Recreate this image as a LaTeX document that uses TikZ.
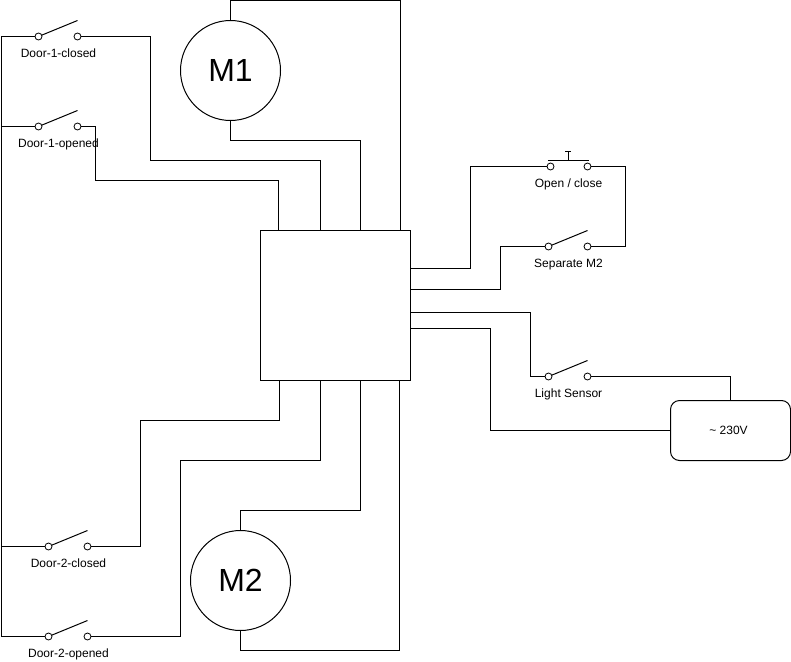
\documentclass[tikz,border=0pt]{standalone}
\usepackage{fontspec}
\setmainfont{Liberation Sans}
\usepackage{xcolor}
\usetikzlibrary{positioning,calc}
\tikzset{
  wire/.style={black,line width=1pt,line join=miter},
  term/.style={circle,draw,fill=white,line width=0.8pt,minimum size=7pt,inner sep=0pt,outer sep=0pt},
  lbl/.style={font=\fontsize{12}{14}\selectfont,text=black,inner sep=0pt,anchor=base},
  motor/.style={circle,draw,line width=1pt,minimum size=100pt,inner sep=0pt,outer sep=0pt,font=\fontsize{32}{36}\selectfont},
}

\begin{document}
\begin{tikzpicture}[x=1pt,y=-1pt]
  \useasboundingbox (0,0) rectangle (791,661);

  % Controller box and power supply
  \node[draw,line width=1pt,minimum size=150pt,inner sep=0pt,outer sep=0pt] (ctrl) at (335.5,305.5) {};
  \node[draw,line width=1pt,rounded corners=9pt,minimum width=120pt,minimum height=60pt,inner sep=0pt,outer sep=0pt,font=\fontsize{12}{14}\selectfont] (psu) at (730.5,430.5) {\char`\~{} 230V\hspace*{4pt}};

  % Motors
  \node[motor] (m1) at (230.5,70.5) {M1};
  \node[motor] (m2) at (240.5,580.5) {M2};

  % Switches: name / left terminal / y / label
  \foreach \name/\x/\y/\txt in {d1c/38.5/36.5/Door-1-closed,d1o/38.5/126.5/Door-1-opened,d2c/48.5/546.5/Door-2-closed,d2o/48.5/636.5/Door-2-opened,sep/548.5/246.5/Separate M2,lgt/548.5/376.5/Light Sensor} {
    \node[term] (\name a) at (\x,\y) {};
    \node[term] (\name b) at (\x+39,\y) {};
    \coordinate (\name tip) at (\x+39,\y-16);
    \draw[wire] (\name a) -- (\name tip);
    \node[lbl] (\name txt) at (\x+20,\y+21) {\txt};
  }

  % Push button
  \node[term] (btna) at (550.5,166.5) {};
  \node[term] (btnb) at (587.5,166.5) {};
  \node[lbl] (btntxt) at (568.5,187.5) {Open / close};
  \coordinate (barl) at (548,160.5);
  \coordinate (barr) at (589,160.5);
  \coordinate (stem) at (568,151);
  \draw[wire] (barl) -- (barr);
  \draw[wire] (stem |- barl) -- (stem);
  \draw[wire] (565,151) -- (571,151);

  % Points on the box edge
  \coordinate (n1) at (278.5,230);
  \coordinate (n2) at (320.5,230);
  \coordinate (n3) at (360.5,230);
  \coordinate (n4) at (400,230);
  \coordinate (s1) at (279.5,380);
  \coordinate (s2) at (320.5,380);
  \coordinate (s3) at (360.5,380);
  \coordinate (s4) at (399,380);
  \coordinate (e1) at (410.5,268);
  \coordinate (e2) at (410.5,289.5);
  \coordinate (e3) at (410.5,312.8);
  \coordinate (e4) at (410.5,328.5);
  \coordinate (rail) at (1,636.5);

  % Common rail on the left
  \draw[wire] (d1ca) -| (rail) -- (d2oa);
  \draw[wire] (d1oa) -- (d1oa -| rail);
  \draw[wire] (d2ca) -- (d2ca -| rail);

  % Door switches to box
  \draw[wire] (d1cb) -| (150.5,160.5) -| (n2);
  \draw[wire] (d1ob) -| (95.5,180.5) -| (n1);
  \draw[wire] (d2cb) -| (140.5,420.5) -| (s1);
  \draw[wire] (d2ob) -| (180.5,460.5) -| (s2);

  % Motors to box
  \draw[wire] (m1.north) |- (400,0.5) -- (n4);
  \draw[wire] (m1.south) |- (360.5,140.5) -- (n3);
  \draw[wire] (m2.north) |- (360.5,510.5) -- (s3);
  \draw[wire] (m2.south) |- (399,650.5) -- (s4);

  % Right side
  \draw[wire] (e1) -| (470.5,166.5) -- (btna);
  \draw[wire] (btnb) -| (625.5,246.5) -- (sepb);
  \draw[wire] (sepa) -| (500.5,289.5) -- (e2);
  \draw[wire] (e3) -| (530.5,376.5) -- (lgta);
  \draw[wire] (lgtb) -| (psu.north);
  \draw[wire] (e4) -| (490.5,430.5) -- (psu.west);
\end{tikzpicture}
\end{document}
